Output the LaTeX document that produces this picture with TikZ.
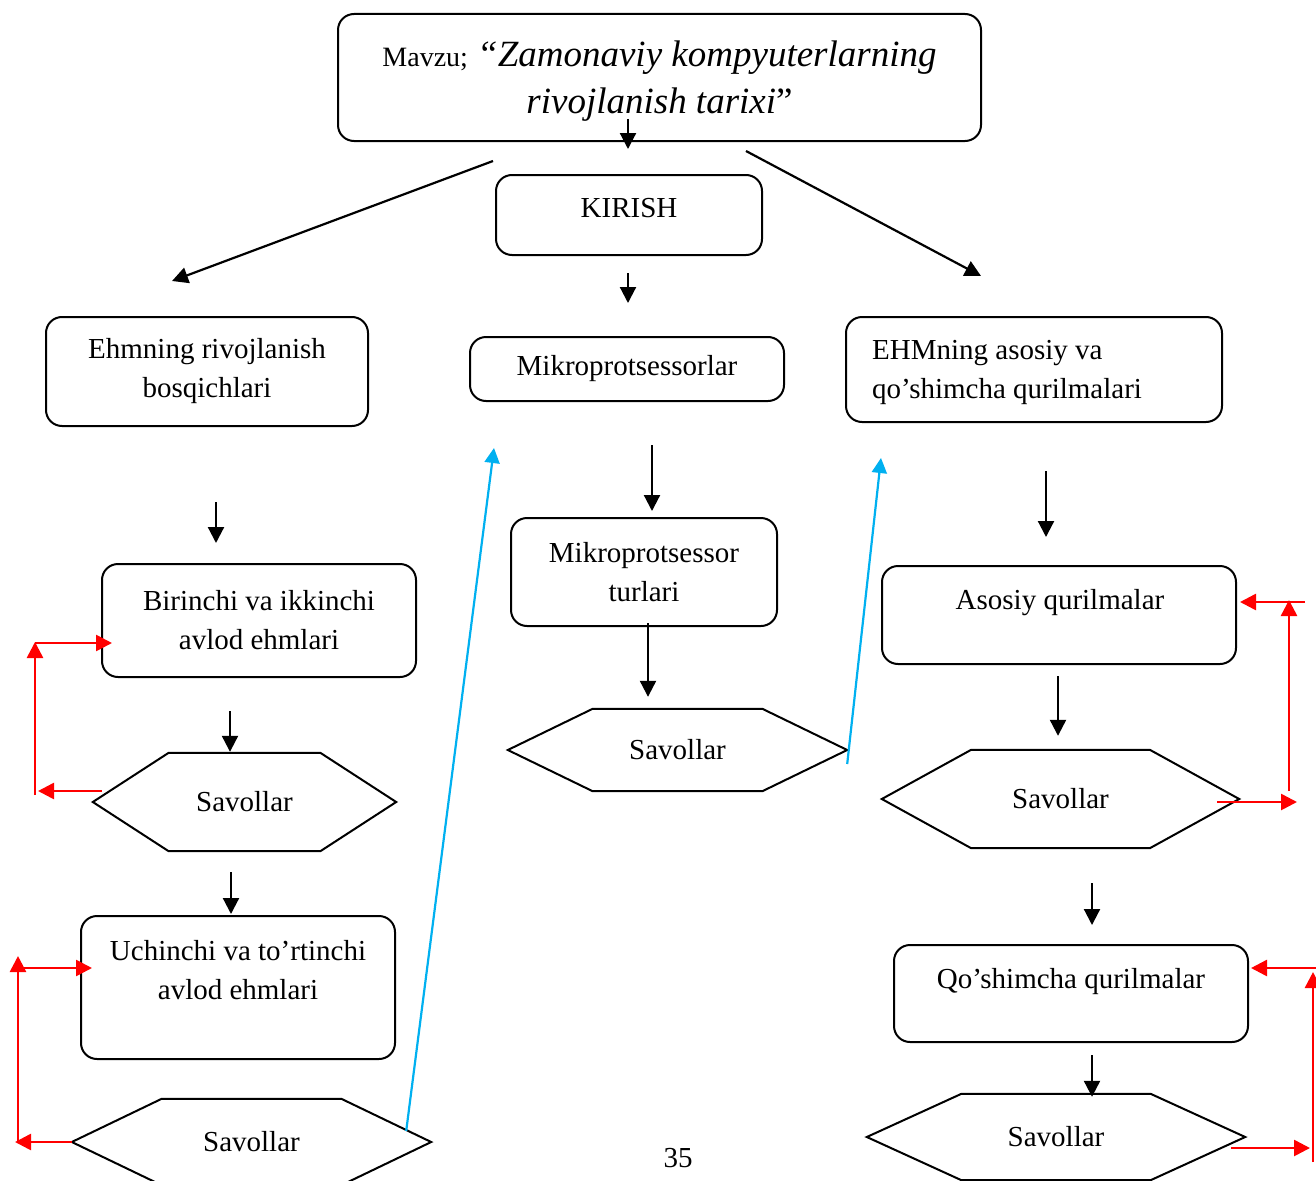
\documentclass[tikz,border=0pt]{standalone}
\usepackage{fontspec}
\setmainfont{Liberation Serif}
\usetikzlibrary{arrows.meta,calc}
\definecolor{loopRed}{HTML}{FF0000}
\definecolor{jumpBlue}{HTML}{00B0F0}

\begin{document}
\begin{tikzpicture}[
    x=1pt, y=-1pt,
    box/.style={draw, line width=2pt, rounded corners=16pt, align=center,
        inner sep=0pt, font=\fontsize{29}{39}\selectfont},
    txt/.style={align=center, inner sep=0pt, font=\fontsize{29}{39}\selectfont},
    hexa/.style={inner sep=0pt, font=\fontsize{29}{39}\selectfont},
    arr/.style={-{Triangle[length=16pt,width=16pt]}, line width=2.2pt},
    redarr/.style={-{Triangle[length=16pt,width=16pt]}, line width=2.6pt, loopRed},
    bluearr/.style={-{Triangle[length=15pt,width=15pt]}, line width=2.2pt, jumpBlue},
]
\useasboundingbox (0,0) rectangle (1316,1180);

% Title
\node[box, minimum width=643pt, minimum height=127pt] (title) at (659.5,77.5) {};
\node[txt, font=\fontsize{37}{47}\selectfont] (titletxt) at (659.5,81)
    {{\fontsize{28}{47}\selectfont Mavzu;} \itshape “Zamonaviy kompyuterlarning\\
     \itshape rivojlanish tarixi\upshape ”};

% Middle column
\node[box, minimum width=266pt, minimum height=80pt] (kirish) at (629,215) {};
\node[txt] (kirishtxt) at (629,208) {KIRISH};
\node[box, minimum width=314pt, minimum height=64pt] (mikro) at (627,369)
    {Mikroprotsessorlar};
\node[box, minimum width=266pt, minimum height=108pt] (turlar) at (644,572)
    {Mikroprotsessor\\turlari};
\node[hexa, minimum width=339pt, minimum height=82pt] (savmp) at (677.5,750)
    {Savollar};

% Left column
\node[box, minimum width=322pt, minimum height=109pt] (ehm) at (207,371.5)
    {Ehmning rivojlanish\\bosqichlari};
\node[box, minimum width=314pt, minimum height=113pt] (gen12) at (259,620.5)
    {Birinchi va ikkinchi\\avlod ehmlari};
\node[hexa, minimum width=303pt, minimum height=98pt] (sav1) at (244.5,802)
    {Savollar};
\node[box, minimum width=314pt, minimum height=143pt] (gen34) at (238,987.5) {};
\node[txt] (gen34txt) at (238,970) {Uchinchi va to’rtinchi\\avlod ehmlari};
\node[hexa, minimum width=359pt, minimum height=86pt] (sav2) at (251.5,1142)
    {Savollar};

% Right column
\node[box, minimum width=376pt, minimum height=105pt] (ehmq) at (1034,369.5) {};
\node[txt, align=left, anchor=west] (ehmqtxt) at (872,372.5)
    {EHMning asosiy va\\qo’shimcha qurilmalari};
\node[box, minimum width=354pt, minimum height=98pt] (asosiy) at (1059,615) {};
\node[txt] (asosiytxt) at (1060,603) {Asosiy qurilmalar};
\node[hexa, minimum width=357pt, minimum height=98pt] (savaq) at (1060.5,799)
    {Savollar};
\node[box, minimum width=354pt, minimum height=97pt] (qq) at (1071,993.5) {};
\node[txt] (qqtxt) at (1071,982) {Qo’shimcha qurilmalar};
\node[hexa, minimum width=378pt, minimum height=86pt] (savqq) at (1056,1137)
    {Savollar};

% Hexagon outlines
\foreach \s in {sav1,sav2,savmp,savaq,savqq}
    \draw[line width=2pt] (\s.west)
        -- ($(\s.north west)!0.25!(\s.north east)$)
        -- ($(\s.north west)!0.75!(\s.north east)$)
        -- (\s.east)
        -- ($(\s.south west)!0.75!(\s.south east)$)
        -- ($(\s.south west)!0.25!(\s.south east)$) -- cycle;

% Black arrows
\draw[arr] ([xshift=-31.5pt,yshift=23pt]title.south) -- ([xshift=-1pt,yshift=25pt]kirish.north);
\draw[arr] ([xshift=-166.5pt,yshift=-19pt]title.south) -- ([xshift=-35pt,yshift=35pt]ehm.north);
\draw[arr] ([xshift=86.5pt,yshift=-9pt]title.south) -- ([xshift=-53pt,yshift=40pt]ehmq.north);
\draw[arr] ([xshift=-1pt,yshift=-17pt]kirish.south) -- ([xshift=1pt,yshift=33pt]mikro.north);
\draw[arr] ([xshift=25pt,yshift=-43pt]mikro.south) -- ([xshift=8pt,yshift=6pt]turlar.north);
\draw[arr] ([xshift=4pt,yshift=4pt]turlar.south) -- ([xshift=-29.5pt,yshift=12pt]savmp.north);
\draw[arr] ([xshift=9pt,yshift=-75pt]ehm.south) -- ([xshift=-43pt,yshift=20pt]gen12.north);
\draw[arr] ([xshift=-29pt,yshift=-33pt]gen12.south) -- ([xshift=-14.5pt,yshift=1pt]sav1.north);
\draw[arr] ([xshift=-13.5pt,yshift=-21pt]sav1.south) -- ([xshift=-7pt,yshift=1pt]gen34.north);
\draw[arr] ([xshift=12pt,yshift=-48pt]ehmq.south) -- ([xshift=-13pt,yshift=28pt]asosiy.north);
\draw[arr] ([xshift=-1pt,yshift=-11pt]asosiy.south) -- ([xshift=-2.5pt,yshift=14pt]savaq.north);
\draw[arr] ([xshift=31.5pt,yshift=-35pt]savaq.south) -- ([xshift=21pt,yshift=19pt]qq.north);
\draw[arr] ([xshift=21pt,yshift=-12pt]qq.south) -- ([xshift=36pt,yshift=-3pt]savqq.north);

% Blue jumps to the next column
\draw[bluearr] ([xshift=-25pt,yshift=11pt]sav2.east) -- ([xshift=25pt,yshift=-46pt]mikro.south west);
\draw[bluearr] ([yshift=-14pt]savmp.east) -- ([xshift=-153pt,yshift=-35pt]ehmq.south);

% Red loops back to the lesson
\coordinate (lp1b) at (35,795);
\coordinate (lp1t) at (35,642);
\draw[redarr] ([xshift=9pt,yshift=11pt]sav1.west) -- ([xshift=3pt,yshift=4pt]lp1b);
\draw[redarr] (lp1b) -- (lp1t);
\draw[redarr] ([yshift=-1pt]lp1t) -- ([xshift=11pt,yshift=-22.5pt]gen12.west);

\coordinate (lp2b) at (18,1142);
\coordinate (lp2t) at (18,956);
\draw[redarr] (sav2.west) -- ([xshift=-3pt]lp2b);
\draw[redarr] (lp2b) -- (lp2t);
\draw[redarr] ([yshift=-12pt]lp2t) -- ([xshift=12pt,yshift=19.5pt]gen34.west);

\coordinate (rp1b) at (1289,791);
\coordinate (rp1t) at (1289,600);
\draw[redarr] ([xshift=16pt,yshift=-2pt]rp1t) -- ([xshift=3pt,yshift=13pt]asosiy.east);
\draw[redarr] (rp1b) -- (rp1t);
\draw[redarr] ([xshift=-22pt,yshift=-3pt]savaq.east) -- ([xshift=8pt,yshift=-11pt]rp1b);

\coordinate (rp2b) at (1313,1162);
\coordinate (rp2t) at (1313,972);
\draw[redarr] ([xshift=3pt,yshift=4pt]rp2t) -- ([xshift=2pt,yshift=25.5pt]qq.east);
\draw[redarr] (rp2b) -- (rp2t);
\draw[redarr] ([xshift=-14pt,yshift=-11pt]savqq.east) -- ([xshift=-3pt,yshift=14pt]rp2b);

% Page number
\node[txt] (pagenum) at (678,1158) {35};

\end{tikzpicture}
\end{document}
